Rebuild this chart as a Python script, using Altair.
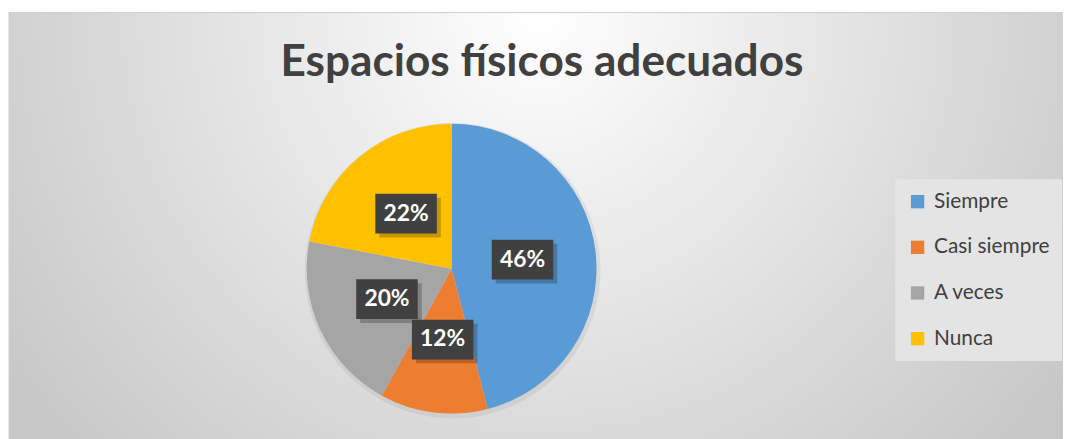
import altair as alt
import pandas as pd

categories = ["Siempre", "Casi siempre", "A veces", "Nunca"]
values = [46, 12, 20, 22]
labels = ["46%", "12%", "20%", "22%"]
colors = ["#5B9BD5", "#ED7D31", "#A5A5A5", "#FFC000"]
title_text = "Espacios físicos adecuados"

df = pd.DataFrame({"cat": categories, "value": values, "label": labels,
                   "order": list(range(len(categories)))})

W, H = 1063, 431
CX, CY, R = 447, 261, 146
LR = 72
BW, BH = 31, 20
FONT = "Lato"

bg = alt.Chart(pd.DataFrame({"a": [0]})).mark_rect(
    color=alt.Gradient(
        gradient="radial",
        stops=[alt.GradientStop(color="#ffffff", offset=0),
               alt.GradientStop(color="#c6c6c6", offset=1)],
        x1=0.5, y1=0.3, r1=0, x2=0.5, y2=0.3, r2=0.62),
    stroke="#cfcfcf", strokeWidth=1
).encode(x=alt.value(1), x2=alt.value(W + 5), y=alt.value(3), y2=alt.value(H + 5))

title = alt.Chart(pd.DataFrame({"t": [title_text]})).mark_text(
    font=FONT, fontWeight="bold", fontSize=44.5, color="#404040",
    align="center", baseline="alphabetic"
).encode(text="t:N", x=alt.value(538), y=alt.value(67))

shadow = alt.Chart(df).mark_arc(radius=R + 3, color="#000000", opacity=0.06).encode(
    theta=alt.Theta("value:Q", stack=True),
    order=alt.Order("order:Q"),
    x=alt.value(CX + 1), y=alt.value(CY + 2),
)

pie = alt.Chart(df).mark_arc(radius=R).encode(
    theta=alt.Theta("value:Q", stack=True),
    color=alt.Color("cat:N", scale=alt.Scale(domain=categories, range=colors),
                    legend=alt.Legend(title=None, orient="none", legendX=894, legendY=171,
                                      symbolType="square", symbolSize=180, symbolStrokeWidth=0,
                                      labelFont=FONT, labelFontSize=21, labelColor="#404040",
                                      labelOffset=6, rowPadding=24, padding=12,
                                      fillColor="#e4e4e4")),
    order=alt.Order("order:Q"),
    x=alt.value(CX), y=alt.value(CY),
)

base = alt.Chart(df).transform_joinaggregate(
    total="sum(value)"
).transform_window(
    cum="sum(value)", sort=[alt.SortField("order")], frame=[None, 0]
).transform_calculate(
    mid="(datum.cum - datum.value/2)/datum.total*2*PI"
).transform_calculate(
    lx=f"{CX} + {LR}*sin(datum.mid)",
    ly=f"{CY} - {LR}*cos(datum.mid)",
).transform_calculate(
    x0=f"datum.lx - {BW}", x1=f"datum.lx + {BW}",
    y0=f"datum.ly - {BH}", y1=f"datum.ly + {BH}",
    sx0=f"datum.lx - {BW} + 4", sx1=f"datum.lx + {BW} + 4",
    sy0=f"datum.ly - {BH} + 4", sy1=f"datum.ly + {BH} + 4",
)

box_shadow = base.mark_rect(color="#000000", opacity=0.22).encode(
    x=alt.X("sx0:Q", scale=None), x2="sx1:Q",
    y=alt.Y("sy0:Q", scale=None), y2="sy1:Q",
)
boxes = base.mark_rect(color="#404040").encode(
    x=alt.X("x0:Q", scale=None), x2="x1:Q",
    y=alt.Y("y0:Q", scale=None), y2="y1:Q",
)
texts = base.mark_text(font=FONT, fontWeight="bold", fontSize=23, color="#ffffff",
                       align="center", baseline="middle").encode(
    x=alt.X("lx:Q", scale=None), y=alt.Y("ly:Q", scale=None), text="label:N",
)

chart = alt.layer(bg, title, shadow, pie, box_shadow, boxes, texts).properties(
    width=W, height=H, autosize=alt.AutoSizeParams(type="none"), padding=0,
    background="#ffffff"
).configure_view(stroke=None)

chart.save("out.html", embed_options={"renderer": "svg", "actions": False})
